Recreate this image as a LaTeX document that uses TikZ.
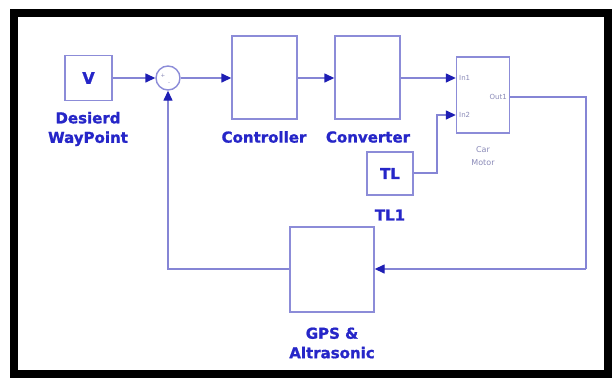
\documentclass[tikz,border=0pt]{standalone}
\usepackage{fontspec}
\setmainfont{DejaVu Sans}[BoldFeatures={FakeBold=1.2}]
\usetikzlibrary{arrows.meta}
\definecolor{boxc}{HTML}{8C8CD8}
\definecolor{linec}{HTML}{8585D5}
\definecolor{tipc}{HTML}{1E1EB4}
\definecolor{txtc}{HTML}{2626C8}
\definecolor{smallc}{HTML}{8A8AB8}
\begin{document}
\begin{tikzpicture}[x=1pt,y=-1pt,
  blk/.style={draw=boxc,line width=1.4pt,fill=white,inner sep=0pt},
  conn/.style={draw=linec,line width=1.4pt},
  arr/.style={conn,-{Triangle[length=10pt,width=9pt,fill=tipc,color=tipc]}},
  lbl/.style={text=txtc,font=\fontsize{15}{19.5}\selectfont\bfseries,align=center,inner sep=0pt},
  tiny/.style={text=smallc,font=\fontsize{7}{8}\selectfont,inner sep=0pt}]
\useasboundingbox (0,0) rectangle (613,378);
\fill[white] (0,0) rectangle (613,378);
\draw[black,line width=8pt] (14,12.5) rectangle (608,374);
% blocks
\node[blk,minimum width=47pt,minimum height=45pt] (v) at (88.5,78) {};
\node[text=txtc,font=\fontsize{16}{19}\selectfont\bfseries] at (v) {V};
\node[lbl] (vl) at (88,129) {Desierd\\WayPoint};
\node[draw=boxc,line width=1.4pt,circle,minimum size=24pt,inner sep=0pt] (sum) at (168,78) {};
\node[text=smallc,font=\fontsize{5.5}{6}\selectfont,inner sep=0pt] (sp) at (163,76) {+};
\node[text=smallc,font=\fontsize{5.5}{6}\selectfont,inner sep=0pt] (sm) at (169,84) {-};
\node[blk,minimum width=65pt,minimum height=83pt] (ctrl) at (264.5,77.5) {};
\node[lbl] (ctrll) at (264,137) {Controller};
\node[blk,minimum width=65pt,minimum height=83pt] (conv) at (367.5,77.5) {};
\node[lbl] (convl) at (368,137) {Converter};
\node[blk,minimum width=53pt,minimum height=76pt] (car) at (483,95) {};
\node[tiny,anchor=west] (in1) at (459,78) {In1};
\node[tiny,anchor=west] (in2) at (459,115) {In2};
\node[tiny,anchor=east] (out1) at (507,97) {Out1};
\node[tiny,align=center,font=\fontsize{8}{13}\selectfont] (carl) at (483,156) {Car\\Motor};
\node[blk,minimum width=46pt,minimum height=43pt] (tl) at (390,173.5) {};
\node[text=txtc,font=\fontsize{15}{19}\selectfont\bfseries] at (tl) {TL};
\node[lbl] (tll) at (390,215) {TL1};
\node[blk,minimum width=84pt,minimum height=85pt] (gps) at (332,269.5) {};
\node[lbl] (gpsl) at (332,343) {GPS \&\\Altrasonic};
% connectors
\coordinate (c0) at (0,78);
\coordinate (c1) at (586,97);
\coordinate (c2) at (586,269);
\coordinate (c3) at (168,269);
\coordinate (c4) at (437,173);
\coordinate (c5) at (437,115);
\draw[arr] (v.east |- c0) -- (sum.west);
\draw[arr] (sum.east) -- (ctrl.west |- c0);
\draw[arr] (ctrl.east |- c0) -- (conv.west |- c0);
\draw[arr] (conv.east |- c0) -- (car.west |- c0);
\draw[arr] (tl.east |- c4) -- (c4) -- (c5) -- (car.west |- c5);
\draw[conn] (car.east |- c1) -- (c1) -- (c2);
\draw[arr] (c2) -- (gps.east |- c2);
\draw[arr] (gps.west |- c3) -- (c3) -- (sum.south);
\end{tikzpicture}
\end{document}
